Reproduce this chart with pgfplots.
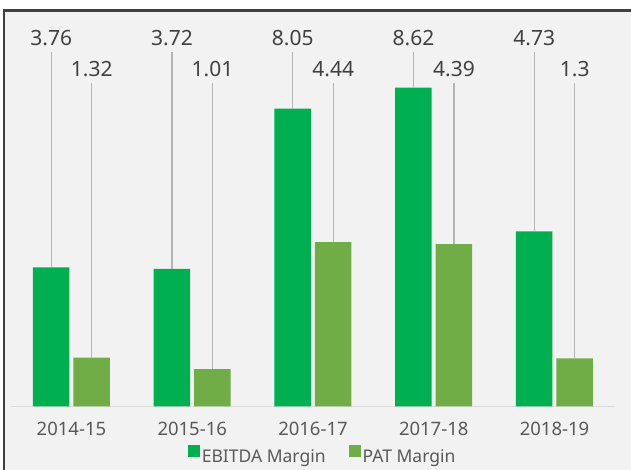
\documentclass[border=0pt]{standalone}
\usepackage{pgfplots}
\pgfplotsset{compat=1.18}
\usepackage{pgfplotstable}
\usepackage{fontspec}
\setmainfont{Noto Sans}

\definecolor{cebitda}{HTML}{00B050}
\definecolor{cpat}{HTML}{70AD47}
\definecolor{cbg}{HTML}{F2F2F2}
\definecolor{cframe}{HTML}{404040}
\definecolor{clead}{HTML}{B4B4B4}
\definecolor{ctext}{HTML}{595959}
\definecolor{cval}{HTML}{404040}

% margins in percent, one row per year
\pgfplotstableread{
x e p
0 3.76 1.32
1 3.72 1.01
2 8.05 4.44
3 8.62 4.39
4 4.73 1.30
}\margins

\begin{document}
\begin{tikzpicture}
\useasboundingbox (0,0) rectangle (631pt,470pt);
\fill[white] (0,0) rectangle (631pt,470pt);
\fill[cbg] (4pt,0) rectangle (631pt,459.5pt);
\draw[cframe,line width=2.2pt] (4pt,0) -- (4pt,459.5pt) -- (631pt,459.5pt);
\begin{axis}[
  at={(11.1pt,63.5pt)}, anchor=south west,
  scale only axis, width=603.75pt, height=388.5pt,
  xmin=-0.5, xmax=4.5, ymin=0, ymax=10.5,
  axis y line=none, axis x line*=bottom,
  x axis line style={-, draw=black!14, line width=1.5pt},
  xtick={0,...,4},
  xticklabels={2014-15,2015-16,2016-17,2017-18,2018-19},
  major tick length=0pt,
  xticklabel style={font=\fontsize{18.5}{18.5}\selectfont, text=ctext, anchor=base, yshift=-29.5pt},
  clip=false,
  legend style={at={(0.516,-0.127)}, anchor=center, draw=none, fill=none,
    font=\fontsize{17.5}{17.5}\selectfont, text=ctext, legend columns=2,
    /tikz/every even column/.append style={column sep=21pt}},
  /pgf/number format/assume math mode=true,
]
\addplot[ybar, bar width=36.5pt, bar shift=-20.25pt, fill=cebitda, draw=none,
  legend image code/.code={\fill[cebitda] (-2pt,0pt) rectangle (10pt,12pt);}]
  table[x=x, y=e]{\margins};
\addlegendentry{EBITDA Margin}
\addplot[ybar, bar width=36.5pt, bar shift=20.25pt, fill=cpat, draw=none,
  legend image code/.code={\fill[cpat] (-2pt,0pt) rectangle (10pt,12pt);}]
  table[x=x, y=p]{\margins};
\addlegendentry{PAT Margin}

% leader lines and value labels
\addplot[draw=none, forget plot, nodes near coords, point meta=\thisrow{e},
  every node near coord/.append style={anchor=base, yshift=7pt,
    font=\fontsize{21}{21}\selectfont, text=cval},
  error bars/.cd, y dir=minus, y explicit, error mark=none,
  error bar style={draw=clead, line width=1.2pt}]
  table[x expr=\thisrow{x}-0.1677, y expr=9.58, y error expr=9.58-\thisrow{e}]{\margins};
\addplot[draw=none, forget plot, nodes near coords, point meta=\thisrow{p},
  every node near coord/.append style={anchor=base, yshift=7pt,
    font=\fontsize{21}{21}\selectfont, text=cval},
  error bars/.cd, y dir=minus, y explicit, error mark=none,
  error bar style={draw=clead, line width=1.2pt}]
  table[x expr=\thisrow{x}+0.1677, y expr=8.74, y error expr=8.74-\thisrow{p}]{\margins};
\end{axis}
\end{tikzpicture}
\end{document}
